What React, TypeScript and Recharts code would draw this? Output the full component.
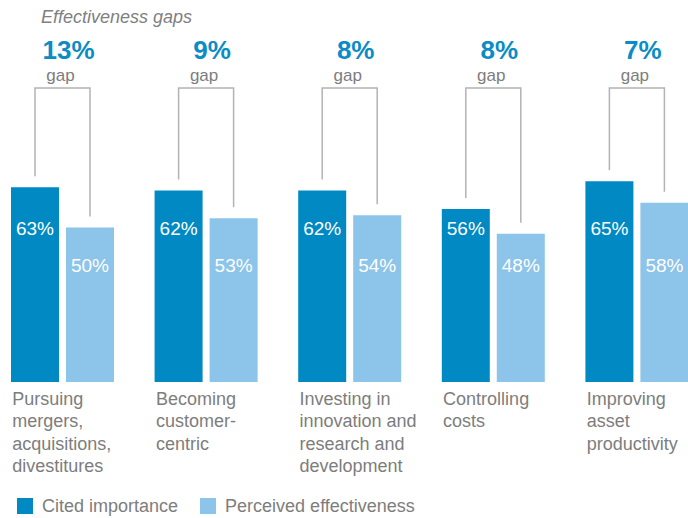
import React from "react";
import { BarChart, Bar, XAxis, YAxis, LabelList } from "recharts";

const categories = ["Mergers", "Customer", "Innovation", "Costs", "Assets"];
const categoryLines = [
  ["Pursuing", "mergers,", "acquisitions,", "divestitures"],
  ["Becoming", "customer-", "centric"],
  ["Investing in", "innovation and", "research and", "development"],
  ["Controlling", "costs"],
  ["Improving", "asset", "productivity"],
];
const citedImportance = [63, 62, 62, 56, 65];
const perceivedEffectiveness = [50, 53, 54, 48, 58];
const gapLabels = ["13%", "9%", "8%", "8%", "7%"];
const seriesNames = ["Cited importance", "Perceived effectiveness"];

const DARK = "#0089c2";
const LIGHT = "#8cc4ea";
const BLUE_TEXT = "#0a8cc6";
const GREY = "#7d7d7d";
const FONT = "'Liberation Sans', Arial, Helvetica, sans-serif";
const BAR_SIZE = 48;
const BAR_GAP = 7;
const BRACKET_TOP = 88;

const rows = categories.map((c, i) => ({
  category: c,
  cited: citedImportance[i],
  perceived: perceivedEffectiveness[i],
}));

// label on the dark bar also draws the gap bracket and the gap figure above the pair
function CitedLabel(props: any) {
  const x = Number(props.x);
  const y = Number(props.y);
  const width = Number(props.width);
  const height = Number(props.height);
  const { index, value } = props;
  const ppu = height / value;
  const bottom = y + height;
  const cx = x + width / 2;
  const lightCx = cx + width + BAR_GAP;
  const lightTop = bottom - perceivedEffectiveness[index] * ppu;
  const groupCx = (cx + lightCx) / 2;
  return (
    <g>
      <path
        d={`M${cx},${y - 11} V${BRACKET_TOP} H${lightCx} V${lightTop - 11}`}
        fill="none"
        stroke="#b3b3b3"
        strokeWidth={1.5}
      />
      <text
        x={groupCx + 6}
        y={59}
        textAnchor="middle"
        fontSize={26}
        fontWeight="bold"
        fill={BLUE_TEXT}
        fontFamily={FONT}
      >
        {gapLabels[index]}
      </text>
      <text x={groupCx - 2} y={81} textAnchor="middle" fontSize={17} fill={GREY} fontFamily={FONT}>
        gap
      </text>
      <text
        x={cx}
        y={bottom - 47.5 * ppu}
        textAnchor="middle"
        fontSize={19}
        fill="#fff"
        fontFamily={FONT}
      >
        {value}%
      </text>
    </g>
  );
}

function PerceivedLabel(props: any) {
  const x = Number(props.x);
  const y = Number(props.y);
  const width = Number(props.width);
  const height = Number(props.height);
  const { value } = props;
  const ppu = height / value;
  return (
    <text
      x={x + width / 2}
      y={y + height - 35.5 * ppu}
      textAnchor="middle"
      fontSize={19}
      fill="#fff"
      fontFamily={FONT}
    >
      {value}%
    </text>
  );
}

function CategoryTick(props: any) {
  const { x, y, index } = props;
  const lines = categoryLines[index] || [];
  const left = x - BAR_SIZE - BAR_GAP / 2;
  return (
    <text x={left + 1} y={y} fill={GREY} fontSize={18} fontFamily={FONT}>
      {lines.map((l, i) => (
        <tspan key={i} x={left + 1} dy={i === 0 ? 23 : 22.3}>
          {l}
        </tspan>
      ))}
    </text>
  );
}

export default function App() {
  return (
    <div
      style={{
        position: "absolute",
        left: 0,
        top: 0,
        width: 688,
        height: 518,
        overflow: "hidden",
        background: "#fff",
        fontFamily: FONT,
      }}
    >
      <div
        style={{
          position: "absolute",
          left: 41,
          top: 8,
          fontSize: 18,
          lineHeight: "18px",
          fontStyle: "italic",
          color: "#808080",
        }}
      >
        Effectiveness gaps
      </div>

      <div style={{ position: "absolute", left: -9.25, top: 0 }}>
        <BarChart
          width={718}
          height={518}
          data={rows}
          margin={{ top: 73, right: 0, bottom: 0, left: 0 }}
          barGap={BAR_GAP}
        >
          <XAxis
            dataKey="category"
            height={136}
            axisLine={false}
            tickLine={false}
            tickSize={0}
            tickMargin={0}
            interval={0}
            tick={<CategoryTick />}
          />
          <YAxis hide domain={[0, 100]} />
          <Bar dataKey="cited" fill={DARK} barSize={BAR_SIZE} isAnimationActive={false}>
            <LabelList dataKey="cited" content={<CitedLabel />} />
          </Bar>
          <Bar dataKey="perceived" fill={LIGHT} barSize={BAR_SIZE} isAnimationActive={false}>
            <LabelList dataKey="perceived" content={<PerceivedLabel />} />
          </Bar>
        </BarChart>
      </div>

      <div
        style={{
          position: "absolute",
          left: 17,
          top: 497,
          display: "flex",
          alignItems: "center",
          fontSize: 18,
          lineHeight: "18px",
          color: GREY,
        }}
      >
        {seriesNames.map((name, i) => (
          <div
            key={name}
            style={{ display: "flex", alignItems: "center", marginLeft: i === 0 ? 0 : 22 }}
          >
            <span
              style={{
                display: "inline-block",
                width: 16,
                height: 16,
                background: i === 0 ? DARK : LIGHT,
                marginRight: 9,
              }}
            />
            <span>{name}</span>
          </div>
        ))}
      </div>
    </div>
  );
}
